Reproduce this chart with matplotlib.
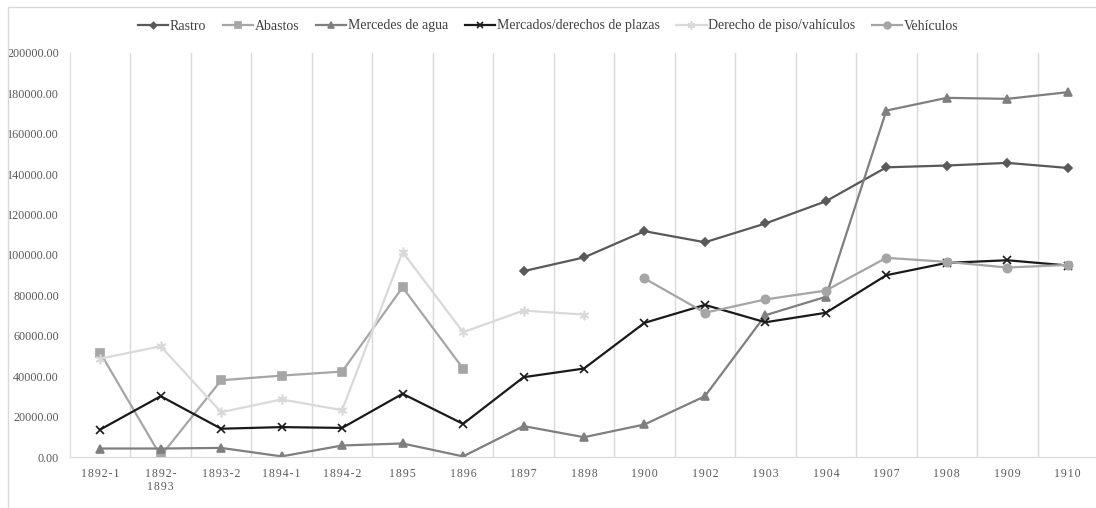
import matplotlib
matplotlib.use('Agg')
import matplotlib.pyplot as plt
import numpy as np
from matplotlib.patches import Rectangle

plt.rcParams['font.family'] = ['Liberation Serif', 'DejaVu Serif']

categories = ['1892-1', '1892-\n1893', '1893-2', '1894-1', '1894-2', '1895', '1896',
              '1897', '1898', '1900', '1902', '1903', '1904', '1907', '1908', '1909', '1910']

nan = np.nan
rastro = [nan, nan, nan, nan, nan, nan, nan,
          92000, 98800, 111800, 106300, 115600, 126600, 143400, 144300, 145600, 143100]
abastos = [51600, 500, 38000, 40300, 42300, 84000, 43800,
           nan, nan, nan, nan, nan, nan, nan, nan, nan, nan]
mercedes = [4200, 4200, 4500, 300, 5700, 6700, 300,
            15300, 9800, 16100, 30100, 70200, 79300, 171500, 177800, 177300, 180600]
mercados = [13600, 30100, 14000, 14800, 14400, 31300, 16400,
            39500, 43800, 66400, 75300, 66700, 71400, 90000, 96100, 97400, 94800]
derecho_piso = [48700, 54800, 22200, 28500, 23200, 101500, 61800,
                72500, 70500, nan, nan, nan, nan, nan, nan, nan, nan]
vehiculos = [nan, nan, nan, nan, nan, nan, nan,
             nan, nan, 88400, 71400, 78000, 82400, 98600, 96600, 93800, 95100]

series = [
    ('Rastro', rastro, '#595959', 'D', 4),
    ('Abastos', abastos, '#a6a6a6', 's', 6),
    ('Mercedes de agua', mercedes, '#7f7f7f', '^', 6),
    ('Mercados/derechos de plazas', mercados, '#1a1a1a', 'x', 6),
    ('Derecho de piso/vahículos', derecho_piso, '#d9d9d9', (6, 2, 0), 7),
    ('Vehículos', vehiculos, '#a5a5a5', 'o', 6),
]

fig = plt.figure(figsize=(10.96, 5.08), dpi=100)
ax = fig.add_axes([70 / 1096, 1 - 457 / 508, 1028 / 1096, 404 / 508])

# chart area border
fig.patches.append(Rectangle((8 / 1096, -0.05), 1.1, 1 - 7 / 508 + 0.05,
                             transform=fig.transFigure, fill=False,
                             edgecolor='#d9d9d9', linewidth=1))

x = np.arange(len(categories))
for label, vals, color, marker, ms in series:
    ax.plot(x, vals, color=color, marker=marker, markersize=ms, linewidth=1.6,
            markeredgecolor=color, markeredgewidth=1.2, label=label)

ax.set_xlim(-0.5, len(categories) - 0.5)
ax.set_ylim(0, 200000)
ax.set_yticks(np.arange(0, 200001, 20000))
ax.set_yticklabels([f'{v:.2f}' for v in np.arange(0, 200001, 20000)],
                   fontsize=8.7, color='#595959')
ax.set_xticks(x)
ax.set_xticklabels(['\u200a'.join(list(c)).replace('\u200a\n\u200a', '\n') for c in categories],
                   fontsize=8.5, color='#595959', linespacing=1.1)
ax.tick_params(length=0, pad=8)

for b in np.arange(0.5, len(categories) - 1, 1):
    ax.axvline(b, color='#d9d9d9', linewidth=1, zorder=0)

for s in ['top', 'right']:
    ax.spines[s].set_visible(False)
ax.spines['left'].set_color('#d9d9d9')
ax.spines['bottom'].set_color('#d9d9d9')

leg = fig.legend(loc='center', bbox_to_anchor=(0.5, 1 - 26 / 508), ncol=6,
                 frameon=False, fontsize=10, handlelength=2.2, handletextpad=0.1,
                 columnspacing=1.2, markerscale=0.8)
for t in leg.get_texts():
    t.set_color('#404040')

fig.savefig('out.png', dpi=100)
